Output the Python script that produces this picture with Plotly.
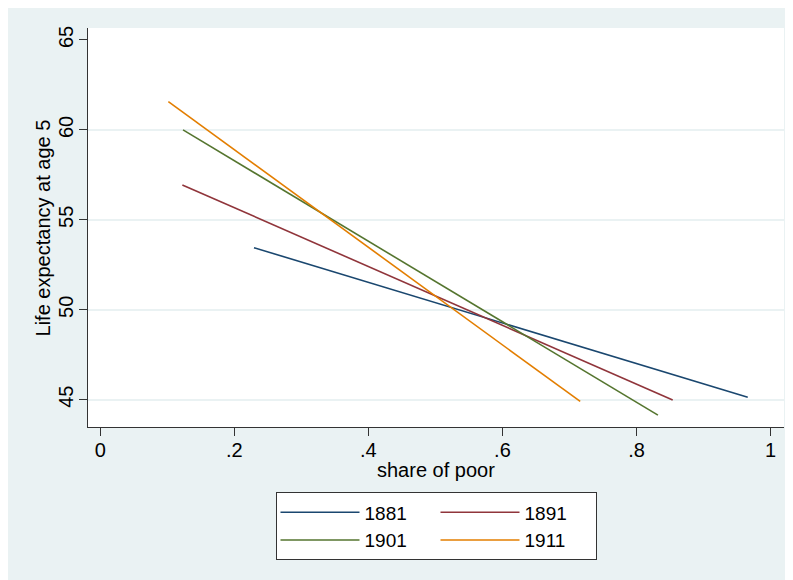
import plotly.graph_objects as go

years = ["1881", "1891", "1901", "1911"]
x_start = [0.2293, 0.1224, 0.1234, 0.1015]
x_end = [0.966, 0.854, 0.832, 0.716]
y_start = [53.45, 56.94, 60.0, 61.57]
y_end = [45.13, 44.98, 44.14, 44.90]
colors = ["#1A476F", "#90353B", "#55752F", "#E37E00"]
legend_cols = ["c1", "c2", "c1", "c2"]

x_ticks = [0, 0.2, 0.4, 0.6, 0.8, 1.0]
x_ticklabels = ["0", ".2", ".4", ".6", ".8", "1"]
y_ticks = [45, 50, 55, 60, 65]
y_grid = [45, 50, 55, 60]

BG = "#EAF2F3"
FONT = "Liberation Sans, Arial, sans-serif"

fig = go.Figure()
for i, yr in enumerate(years):
    fig.add_trace(go.Scatter(
        x=[x_start[i], x_end[i]], y=[y_start[i], y_end[i]],
        mode="lines", name=yr, legendgroup=legend_cols[i],
        line=dict(color=colors[i], width=1.6),
    ))

# invisible trace to host gridline axis
fig.add_trace(go.Scatter(x=[None], y=[None], yaxis="y2", showlegend=False, hoverinfo="skip"))

xr = [-0.0184, 1.0201]
yr_ = [43.48, 65.667]

fig.update_layout(
    width=793, height=580,
    margin=dict(l=80, r=17, t=20, b=161),
    paper_bgcolor=BG, plot_bgcolor="white",
    font=dict(family=FONT, size=20, color="black"),
    showlegend=True,
    xaxis=dict(
        range=xr, tickvals=x_ticks, ticktext=x_ticklabels,
        showgrid=False, zeroline=False, automargin=False,
        showline=True, linecolor="#333333", linewidth=1,
        ticks="outside", ticklen=8, tickcolor="#333333", tickwidth=1,
        ticklabelstandoff=-3,
    ),
    yaxis=dict(
        range=yr_, tickvals=y_ticks, automargin=False,
        showgrid=False, zeroline=False,
        showline=True, linecolor="#333333", linewidth=1,
        ticks="outside", ticklen=8, tickcolor="#333333", tickwidth=1,
        tickangle=-90,
        ticklabelstandoff=-2,
    ),
    yaxis2=dict(
        range=yr_, tickvals=y_grid, overlaying="y", side="right",
        showgrid=True, gridcolor=BG, gridwidth=1.5, automargin=False,
        showticklabels=False, ticks="", showline=False, zeroline=False,
    ),
    annotations=[
        dict(text="share of poor", xref="paper", yref="paper",
             x=0.5, y=-0.107, xanchor="center", yanchor="middle",
             showarrow=False, font=dict(size=20)),
        dict(text="Life expectancy at age 5", xref="paper", yref="paper",
             x=-0.0647, y=0.5, xanchor="center", yanchor="middle",
             textangle=-90, showarrow=False, font=dict(size=20)),
    ],
    legend=dict(
        orientation="h", x=0.5, xanchor="center", y=-0.164, yanchor="top",
        bgcolor="white", bordercolor="#333333", borderwidth=1,
        font=dict(size=19), traceorder="grouped", tracegroupgap=10,
        itemwidth=79, entrywidth=66, entrywidthmode="pixels",
    ),
)

fig.write_html("out.html")
